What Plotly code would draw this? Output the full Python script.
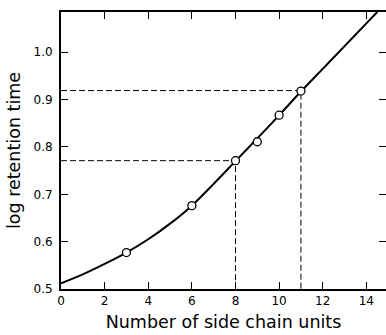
import plotly.graph_objects as go

# Measured points
pts_x = [3, 6, 8, 9, 10, 11]
pts_y = [0.577, 0.676, 0.771, 0.811, 0.867, 0.918]

# Smooth fitted curve
curve_x = [0, 1, 2, 3, 4, 5, 6, 7, 8, 9, 10, 11, 12, 13, 14, 14.5]
curve_y = [0.512, 0.531, 0.553, 0.577, 0.605, 0.638, 0.676, 0.722, 0.770, 0.818, 0.867, 0.917, 0.965, 1.013, 1.061, 1.085]

# Read-off guide lines
guide_x = [8, 11]
guide_y = [0.771, 0.919]

x_ticks = [0, 2, 4, 6, 8, 10, 12, 14]
y_ticks = [0.5, 0.6, 0.7, 0.8, 0.9, 1.0]
x_range = [0, 14.9]
y_range = [0.5, 1.085]

fig = go.Figure()

for gx, gy in zip(guide_x, guide_y):
    fig.add_trace(go.Scatter(x=[x_range[0], gx, gx], y=[gy, gy, y_range[0]],
                             mode="lines", line=dict(color="black", width=1, dash="6px,3px"),
                             hoverinfo="skip", showlegend=False))

fig.add_trace(go.Scatter(x=curve_x, y=curve_y, mode="lines",
                         line=dict(color="black", width=2, shape="spline", smoothing=0.8),
                         showlegend=False))

fig.add_trace(go.Scatter(x=pts_x, y=pts_y, mode="markers",
                         marker=dict(symbol="circle", size=8, color="white",
                                     line=dict(color="black", width=1.3)),
                         showlegend=False))

# invisible trace for right axis ticks
fig.add_trace(go.Scatter(x=[None], y=[None], yaxis="y2", showlegend=False))

font_family = "DejaVu Sans"
fig.update_layout(
    width=386, height=335,
    margin=dict(l=61, r=0, t=12, b=46),
    paper_bgcolor="white", plot_bgcolor="white",
    font=dict(family=font_family, color="black"),
    xaxis=dict(range=x_range, tickvals=x_ticks, ticks="inside", ticklen=7, tickwidth=1.3,
               tickcolor="black", showline=True, linecolor="black", linewidth=1.8,
               mirror="ticks", showgrid=False, zeroline=False,
               tickfont=dict(size=12, family=font_family),
               title=dict(text="Number of side chain units", font=dict(size=17.5), standoff=8)),
    yaxis=dict(range=y_range, tickvals=y_ticks, tickformat=".1f", ticks="inside", ticklen=7,
               tickwidth=1.3, tickcolor="black", showline=True, linecolor="black", linewidth=1.8,
               showgrid=False, zeroline=False, ticklabelstandoff=4,
               tickfont=dict(size=12, family=font_family),
               title=dict(text="log retention time", font=dict(size=17.5), standoff=8)),
    yaxis2=dict(range=y_range, tickvals=y_ticks, overlaying="y", side="right", ticks="inside",
                ticklen=7, tickwidth=1.3, tickcolor="black", showline=False,
                showticklabels=False, showgrid=False, zeroline=False),
)

fig.write_html("out.html")
